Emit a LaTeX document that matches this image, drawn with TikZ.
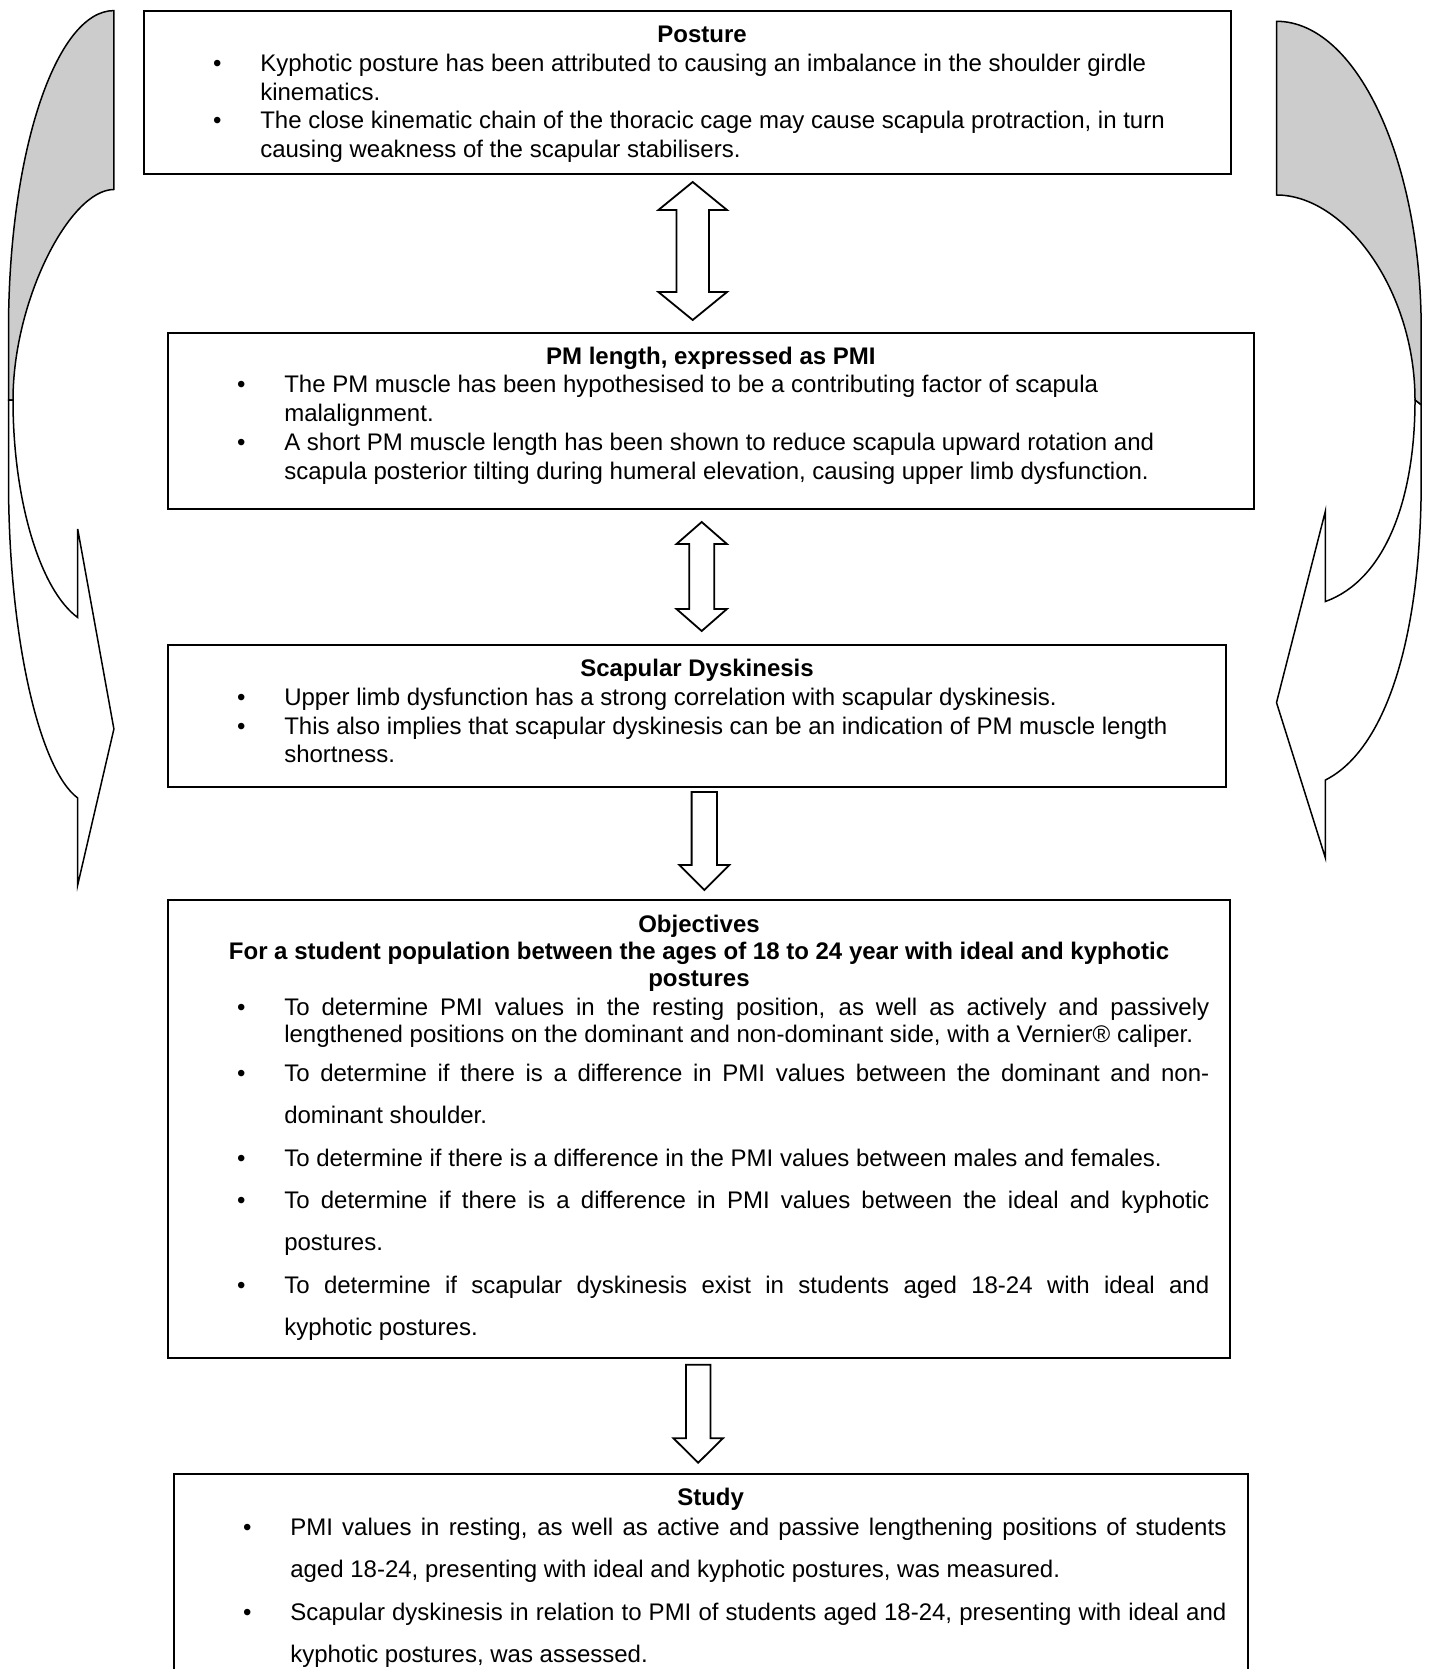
\documentclass[tikz,border=0pt]{standalone}
\usepackage{fontspec}
\setmainfont{Liberation Sans}
\usepackage{enumitem}
\usetikzlibrary{calc}

\definecolor{foldgray}{gray}{0.8}
\setlist[itemize]{label={\makebox[0pt]{\textbullet}}, nosep, leftmargin=58.3pt, labelwidth=0pt, labelsep=21.5pt}

\newcommand\boxtitle[2][5.65pt]{\vspace*{#1}{\centering\bfseries#2\strut\par}}

\newcommand\blockdbl[5]{% top tip, bottom tip, shaft half, head half, head length
  \draw[blockarrow] (#1) -- ++(#4,#5) -- ++(#3-#4,0) -- ($(#2)+(#3,-#5)$) -- ++(#4-#3,0) -- (#2)
    -- ++(-#4,-#5) -- ++(#4-#3,0) -- ($(#1)+(-#3,#5)$) -- ++(#3-#4,0) -- cycle;}
\newcommand\blockdown[5]{% shaft top, tip, shaft half, head half, head length
  \draw[blockarrow] ($(#1)+(-#3,0)$) -- ($(#1)+(#3,0)$) -- ($(#2)+(#3,-#5)$) -- ++(#4-#3,0) -- (#2)
    -- ++(-#4,-#5) -- ++(#4-#3,0) -- cycle;}

\tikzset{
  box/.style={draw, line width=1pt, inner sep=0pt, anchor=north west, font=\fontsize{12pt}{14.4pt}\selectfont},
  blockarrow/.style={draw, line width=0.9pt, fill=white, line join=miter},
  foldarrow/.style={draw, line width=0.75pt, fill=white, line join=miter}
}

\begin{document}
\begin{tikzpicture}[x=0.5pt, y=-0.5pt]
\useasboundingbox (0,0) rectangle (1433,1669);

% left curved arrow
\draw[foldarrow, fill=foldgray] (113.9,10.6) .. controls (55.7,10.6) and (8.5,153.7) .. (8.5,330) -- (8.5,400) -- (13,400)
  .. controls (13,300) and (70,189.5) .. (113.9,189.5) -- cycle;
\draw[foldarrow] (8.5,400) -- (8.5,480) .. controls (8.5,640) and (40,770) .. (77.7,798) -- (77.7,885) -- (113.9,729)
  -- (77.7,529) -- (77.7,617.5) .. controls (40,590) and (13,500) .. (13,400) -- cycle;

% right curved arrow
\draw[foldarrow, fill=foldgray] (1276.5,21.3) .. controls (1356.4,21.3) and (1421.2,159.6) .. (1421.2,330) -- (1421.2,405) -- (1415,400)
  .. controls (1415,290) and (1345,195) .. (1276.5,195) -- cycle;
\draw[foldarrow] (1421.2,405) -- (1421.2,480) .. controls (1421.2,640) and (1385,750) .. (1325.4,780) -- (1325.4,858) -- (1276.5,702.6)
  -- (1325.4,511) -- (1325.4,601.5) .. controls (1385,580) and (1415,500) .. (1415,400) -- cycle;

\node[box] (posture) at (142.7,10) {\parbox[t][81.35pt][t]{543.45pt}{\raggedright
  \boxtitle{\hspace*{15pt}Posture}
  \begin{itemize}
  \item Kyphotic posture has been attributed to causing an imbalance in the shoulder girdle\newline kinematics.
  \item The close kinematic chain of the thoracic cage may cause scapula protraction, in turn\newline causing weakness of the scapular stabilisers.
  \end{itemize}}};

\node[box] (pmlength) at (166.7,331.7) {\parbox[t][88.3pt][t]{543.15pt}{\raggedright
  \boxtitle{PM length, expressed as PMI}
  \begin{itemize}
  \item The PM muscle has been hypothesised to be a contributing factor of scapula\newline malalignment.
  \item A short PM muscle length has been shown to reduce scapula upward rotation and\newline scapula posterior tilting during humeral elevation, causing upper limb dysfunction.
  \end{itemize}}};

\node[box] (dyskinesis) at (166.7,644) {\parbox[t][70.85pt][t]{529.35pt}{\raggedright
  \boxtitle{Scapular Dyskinesis}
  \begin{itemize}
  \item Upper limb dysfunction has a strong correlation with scapular dyskinesis.
  \item This also implies that scapular dyskinesis can be an indication of PM muscle length\newline shortness.
  \end{itemize}}};

\node[box] (objectives) at (166.7,899) {\parbox[t][228.85pt][t]{531.3pt}{\hyphenpenalty=10000
  \vspace*{6.55pt}{\centering\bfseries\fontsize{12pt}{13.5pt}\selectfont\strut Objectives\\
  For a student population between the ages of 18 to 24 year with ideal and kyphotic\\postures\par}
  \vspace*{1.5pt}
  \begin{itemize}[rightmargin=10.5pt]
  \item \fontsize{12pt}{13.3pt}\selectfont To determine PMI values in the resting position, as well as actively and passively\linebreak
    lengthened positions on the dominant and non-dominant side, with a Vernier® caliper.\par
  \vspace*{-1.7pt}
  \item \fontsize{12pt}{21.2pt}\selectfont To determine if there is a difference in PMI values between the dominant and non-\linebreak dominant shoulder.
  \item To determine if there is a difference in the PMI values between males and females.
  \item To determine if there is a difference in PMI values between the ideal and kyphotic\linebreak postures.
  \item To determine if scapular dyskinesis exist in students aged 18-24 with ideal and\linebreak kyphotic postures.
  \end{itemize}}};

\node[box] (study) at (172.7,1472.7) {\parbox[t][103.65pt][t]{536.95pt}{\hyphenpenalty=10000
  \boxtitle[5.8pt]{Study}
  \vspace*{-6.2pt}
  \begin{itemize}[rightmargin=10.6pt]\fontsize{12pt}{21.2pt}\selectfont
  \item PMI values in resting, as well as active and passive lengthening positions of students\linebreak
    aged 18-24, presenting with ideal and kyphotic postures, was measured.
  \item Scapular dyskinesis in relation to PMI of students aged 18-24, presenting with ideal and\linebreak
    kyphotic postures, was assessed.
  \end{itemize}}};

\coordinate (u1) at ($(posture.south)+(5.55,7.3)$);
\coordinate (d1) at ($(pmlength.north)+(-18.15,-11.7)$);
\coordinate (u2) at ($(pmlength.south)+(-9.15,11.7)$);
\coordinate (d2) at ($(dyskinesis.north)+(4.65,-13)$);
\coordinate (u3) at ($(dyskinesis.south)+(7.25,4.3)$);
\coordinate (d3) at ($(objectives.north)+(5.3,-9)$);
\coordinate (u4) at ($(objectives.south)+(-0.8,6)$);
\coordinate (d4) at ($(study.north)+(-12.45,-10)$);

\blockdbl{u1}{d1}{16.3}{34.3}{28}
\blockdbl{u2}{d2}{12.5}{25.2}{22}
\blockdown{u3}{d3}{12.7}{25}{25}
\blockdown{u4}{d4}{12.2}{24.7}{24.4}
\end{tikzpicture}
\end{document}
